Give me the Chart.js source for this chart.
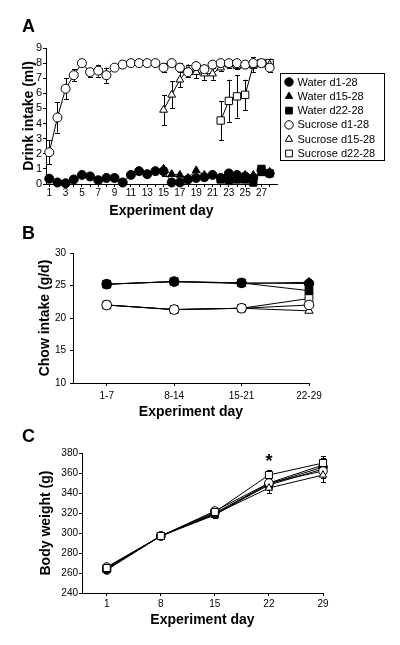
<!DOCTYPE html>
<html>
<head>
<meta charset="utf-8">
<script src="https://cdn.jsdelivr.net/npm/chart.js@4.4.0/dist/chart.umd.min.js"></script>
<style>
  body { margin: 0; background: #fff; width: 400px; height: 645px; position: relative; overflow: hidden; }
  .panel { position: absolute; left: 0; width: 400px; }
  .tag { position: absolute; left: 22px; font: bold 18px/18px "Liberation Sans", Arial, sans-serif; color: #000; }
</style>
</head>
<body>
<div class="panel" style="top:0;height:220px"><canvas id="drinkChart" width="400" height="220"></canvas></div>
<div class="panel" style="top:215px;height:210px"><canvas id="chowChart" width="400" height="210"></canvas></div>
<div class="panel" style="top:425px;height:220px"><canvas id="weightChart" width="400" height="220"></canvas></div>
<div class="tag" style="top:17px">A</div>
<div class="tag" style="top:224px">B</div>
<div class="tag" style="top:427px">C</div>
<script>
const FONT = '"Liberation Sans", Arial, sans-serif';

// ---- Panel A: drink intake (ml) per day ----
const days = [1,2,3,4,5,6,7,8,9,10,11,12,13,14,15,16,17,18,19,20,21,22,23,24,25,26,27,28];
const waterD1 = [0.35,0.1,0.05,0.3,0.6,0.5,0.25,0.4,0.4,0.1,0.6,0.85,0.65,0.85,0.85,0.1,0.1,0.3,0.4,0.45,0.6,0.4,0.7,0.6,0.5,0.4,0.9,0.7];
const waterD15 = [null,null,null,null,null,null,null,null,null,null,null,null,null,null,1.0,0.65,0.6,0.4,0.9,0.6,0.6,0.4,0.4,0.5,0.6,0.6,0.7,0.8];
const waterD22 = [null,null,null,null,null,null,null,null,null,null,null,null,null,null,null,null,null,null,null,null,null,0.3,0.2,0.3,0.3,0.1,1.0,0.7];
const sucD1 = [2.1,4.4,6.3,7.2,8.0,7.4,7.5,7.2,7.7,7.9,8.0,8.0,8.0,8.0,7.7,8.0,7.7,7.4,7.8,7.6,7.9,8.0,8.0,8.0,7.9,8.0,8.0,7.7];
const sucD15 = [null,null,null,null,null,null,null,null,null,null,null,null,null,null,4.9,5.9,6.9,7.6,7.4,7.3,7.3,7.7,7.9,7.8,7.9,7.9,8.0,7.9];
const sucD22 = [null,null,null,null,null,null,null,null,null,null,null,null,null,null,null,null,null,null,null,null,null,4.2,5.5,5.8,5.9,7.9,8.0,8.0];
const sucD1Err = [0.8,1.0,0.7,0.4,0.1,0.3,0.4,0.5,0.1,0.1,0.1,0.1,0.1,0.1,0.3,0.1,0.3,0.3,0.3,0.3,0.2,0.1,0.1,0.1,0.1,0.1,0.1,0.3];
const sucD15Err = [0,0,0,0,0,0,0,0,0,0,0,0,0,0,1.0,0.9,0.5,0.3,0.4,0.4,0.4,0.2,0.2,0.2,0.2,0.2,0.2,0.2];
const sucD22Err = [0,0,0,0,0,0,0,0,0,0,0,0,0,0,0,0,0,0,0,0,0,1.3,1.4,1.4,1.0,0.5,0.2,0.3];
const waterD1Err = [0.2,0.1,0.1,0.1,0.1,0.1,0.1,0.1,0.1,0.1,0.1,0.2,0.2,0.2,0.3,0.1,0.1,0.1,0.1,0.1,0.1,0.1,0.1,0.1,0.1,0.1,0.3,0.2];

// ---- Panel B: chow intake (g/d) per week ----
const weeks = [1,2,3,4];
const weekLabels = ["1-7","8-14","15-21","22-29"];
const chowWaterD1 = [25.2,25.6,25.4,25.3];
const chowWaterD15 = [25.2,25.6,25.3,25.5];
const chowWaterD22 = [25.2,25.6,25.4,24.2];
const chowSucD1 = [22.0,21.3,21.5,22.0];
const chowSucD15 = [22.0,21.3,21.5,21.1];
const chowSucD22 = [22.0,21.3,21.5,23.0];

// ---- Panel C: body weight (g) ----
const weighDays = [1,8,15,22,29];
const bwWaterD1 = [263,297,320,349,366];
const bwWaterD15 = [264,297,318,350,368];
const bwWaterD22 = [264,297,319,348,364];
const bwSucD1 = [266,297,322,350,362];
const bwSucD15 = [265,297,319,345,358];
const bwSucD22 = [265,297,321,358,370];
const bwErr = [2,2,3,5,7];
const starDay = 22;
const starLevel = 375;

const groupLabels = ["Water d1-28","Water d15-28","Water d22-28","Sucrose d1-28","Sucrose d15-28","Sucrose d22-28"];
const groupStyles = ["circle","triangle","rect","circle","triangle","rect"];
const groupFills = ["#000","#000","#000","#fff","#fff","#fff"];

function series(i, xs, ys, errs, radius) {
  const pts = [];
  const e = [];
  xs.forEach((x, k) => {
    if (ys[k] == null) return;
    pts.push({ x: x, y: ys[k] });
    e.push(errs ? errs[k] : 0);
  });
  const r = groupStyles[i] === "rect" ? radius * 1.15 : radius;
  return {
    label: groupLabels[i],
    data: pts,
    errors: e,
    borderColor: "#000",
    borderWidth: 1,
    pointStyle: groupStyles[i],
    pointBackgroundColor: groupFills[i],
    pointBorderColor: "#000",
    pointBorderWidth: 1,
    pointRadius: r,
    tension: 0,
    fill: false,
    clip: false
  };
}

// error bars drawn under the markers
const errorBars = {
  id: "errorBars",
  beforeDatasetsDraw(chart) {
    const ctx = chart.ctx;
    const xs = chart.scales.x, ys = chart.scales.y;
    ctx.save();
    ctx.strokeStyle = "#000";
    ctx.lineWidth = 1;
    chart.data.datasets.forEach((ds) => {
      if (!ds.errors) return;
      ds.data.forEach((p, k) => {
        const err = ds.errors[k];
        if (!err) return;
        const x = Math.round(xs.getPixelForValue(p.x)) + 0.5;
        const y1 = ys.getPixelForValue(p.y + err);
        const y2 = ys.getPixelForValue(p.y - err);
        ctx.beginPath();
        ctx.moveTo(x, y1); ctx.lineTo(x, y2);
        ctx.moveTo(x - 2.5, Math.round(y1) + 0.5); ctx.lineTo(x + 2.5, Math.round(y1) + 0.5);
        ctx.moveTo(x - 2.5, Math.round(y2) + 0.5); ctx.lineTo(x + 2.5, Math.round(y2) + 0.5);
        ctx.stroke();
      });
    });
    ctx.restore();
  }
};

function drawMarker(ctx, style, x, y, r) {
  ctx.beginPath();
  if (style === "circle") {
    ctx.arc(x, y, r, 0, Math.PI * 2);
  } else if (style === "triangle") {
    ctx.moveTo(x, y - r);
    ctx.lineTo(x + r * 0.866, y + r * 0.5);
    ctx.lineTo(x - r * 0.866, y + r * 0.5);
    ctx.closePath();
  } else {
    const s = r * 0.8;
    ctx.rect(x - s, y - s, 2 * s, 2 * s);
  }
  ctx.fill();
  ctx.stroke();
}

// boxed legend to the right of panel A, water groups first
const boxLegend = {
  id: "boxLegend",
  afterDraw(chart) {
    const ctx = chart.ctx;
    const left = chart.chartArea.right + 3.5;
    const top = chart.chartArea.top + 25.5;
    ctx.save();
    ctx.strokeStyle = "#000";
    ctx.lineWidth = 1;
    ctx.strokeRect(left, top, 104, 87);
    ctx.font = "11px " + FONT;
    ctx.textBaseline = "middle";
    groupLabels.forEach((label, i) => {
      const y = top + 8.5 + i * 14.3;
      ctx.fillStyle = groupFills[i];
      drawMarker(ctx, groupStyles[i], left + 8.5, y, 4.2);
      ctx.fillStyle = "#000";
      ctx.fillText(label, left + 17, y + 0.5);
    });
    ctx.restore();
  }
};

// significance star in panel C
const starMark = {
  id: "starMark",
  afterDatasetsDraw(chart) {
    const ctx = chart.ctx;
    ctx.save();
    ctx.fillStyle = "#000";
    ctx.font = "bold 18px " + FONT;
    ctx.textAlign = "center";
    ctx.textBaseline = "middle";
    ctx.fillText("*", chart.scales.x.getPixelForValue(starDay), chart.scales.y.getPixelForValue(starLevel) + 4);
    ctx.restore();
  }
};

function axes(o) {
  return {
    x: {
      type: "linear",
      min: o.xMin, max: o.xMax,
      afterBuildTicks: s => { s.ticks = o.xTicks.map(v => ({ value: v })); },
      afterFit: s => { s.height = o.xHeight; },
      grid: { display: true, drawOnChartArea: false, drawTicks: true, tickLength: 3, color: "#000" },
      border: { display: true, color: "#000", width: 1 },
      ticks: { color: "#000", font: { family: FONT, size: 10 }, padding: o.xTickPad, autoSkip: false, maxRotation: 0, callback: o.xLabel },
      title: { display: true, text: "Experiment day", color: "#000", font: { family: FONT, size: 14, weight: "bold" }, padding: { top: 0, bottom: o.xTitlePad } }
    },
    y: {
      min: o.yMin, max: o.yMax,
      afterBuildTicks: s => { s.ticks = o.yTicks.map(v => ({ value: v })); },
      afterFit: s => { s.width = o.yWidth; },
      grid: { display: true, drawOnChartArea: false, drawTicks: true, tickLength: 3, color: "#000" },
      border: { display: true, color: "#000", width: 1 },
      ticks: { color: "#000", font: { family: FONT, size: o.yFont }, padding: o.yTickPad, autoSkip: false },
      title: { display: true, text: o.yTitle, color: "#000", font: { family: FONT, size: 14, weight: "bold" }, padding: { top: o.yTitlePad, bottom: 0 } }
    }
  };
}

const baseOptions = (scales, padding) => ({
  responsive: false,
  animation: false,
  layout: { padding: padding },
  plugins: { legend: { display: false }, tooltip: { enabled: false } },
  scales: scales
});

// Panel A
new Chart(document.getElementById("drinkChart"), {
  type: "line",
  data: {
    datasets: [
      series(3, days, sucD1, sucD1Err, 4.5),
      series(4, days, sucD15, sucD15Err, 4.5),
      series(5, days, sucD22, sucD22Err, 4.5),
      series(0, days, waterD1, waterD1Err, 4.5),
      series(1, days, waterD15, null, 4.5),
      series(2, days, waterD22, null, 4.5)
    ]
  },
  options: baseOptions(axes({
    xMin: 0.6, xMax: 28.9, xTicks: days, xLabel: v => (v % 2 === 1 ? v : ""),
    xHeight: 36, xTickPad: 0, xTitlePad: 0,
    yMin: 0, yMax: 9, yTicks: [0,1,2,3,4,5,6,7,8,9], yFont: 11, yTickPad: 1,
    yWidth: 46, yTitle: "Drink intake (ml)", yTitlePad: 21
  }), { top: 48, right: 123, bottom: 0, left: 0 }),
  plugins: [errorBars, boxLegend]
});

// Panel B
new Chart(document.getElementById("chowChart"), {
  type: "line",
  data: {
    datasets: [
      series(0, weeks, chowWaterD1, null, 4.8),
      series(1, weeks, chowWaterD15, null, 4.8),
      series(2, weeks, chowWaterD22, null, 4.8),
      series(3, weeks, chowSucD1, null, 4.8),
      series(4, weeks, chowSucD15, null, 4.8),
      series(5, weeks, chowSucD22, null, 4.8)
    ]
  },
  options: baseOptions(axes({
    xMin: 0.5, xMax: 4, xTicks: weeks, xLabel: v => weekLabels[v - 1],
    xHeight: 42, xTickPad: 4, xTitlePad: 4,
    yMin: 10, yMax: 30, yTicks: [10,15,20,25,30], yFont: 10, yTickPad: 4,
    yWidth: 73, yTitle: "Chow intake (g/d)", yTitlePad: 37
  }), { top: 38, right: 91, bottom: 0, left: 0 }),
  plugins: [errorBars]
});

// Panel C
new Chart(document.getElementById("weightChart"), {
  type: "line",
  data: {
    datasets: [
      series(5, weighDays, bwSucD22, bwErr, 4.3),
      series(4, weighDays, bwSucD15, bwErr, 4.3),
      series(3, weighDays, bwSucD1, bwErr, 4.3),
      series(0, weighDays, bwWaterD1, bwErr, 4.3),
      series(1, weighDays, bwWaterD15, bwErr, 4.3),
      series(2, weighDays, bwWaterD22, bwErr, 4.3)
    ]
  },
  options: baseOptions(axes({
    xMin: -2.2, xMax: 29, xTicks: weighDays, xLabel: v => v,
    xHeight: 52, xTickPad: 2, xTitlePad: 16,
    yMin: 240, yMax: 380, yTicks: [240,260,280,300,320,340,360,380], yFont: 10, yTickPad: 1,
    yWidth: 82, yTitle: "Body weight (g)", yTitlePad: 38
  }), { top: 28, right: 77, bottom: 0, left: 0 }),
  plugins: [errorBars, starMark]
});
</script>
</body>
</html>
